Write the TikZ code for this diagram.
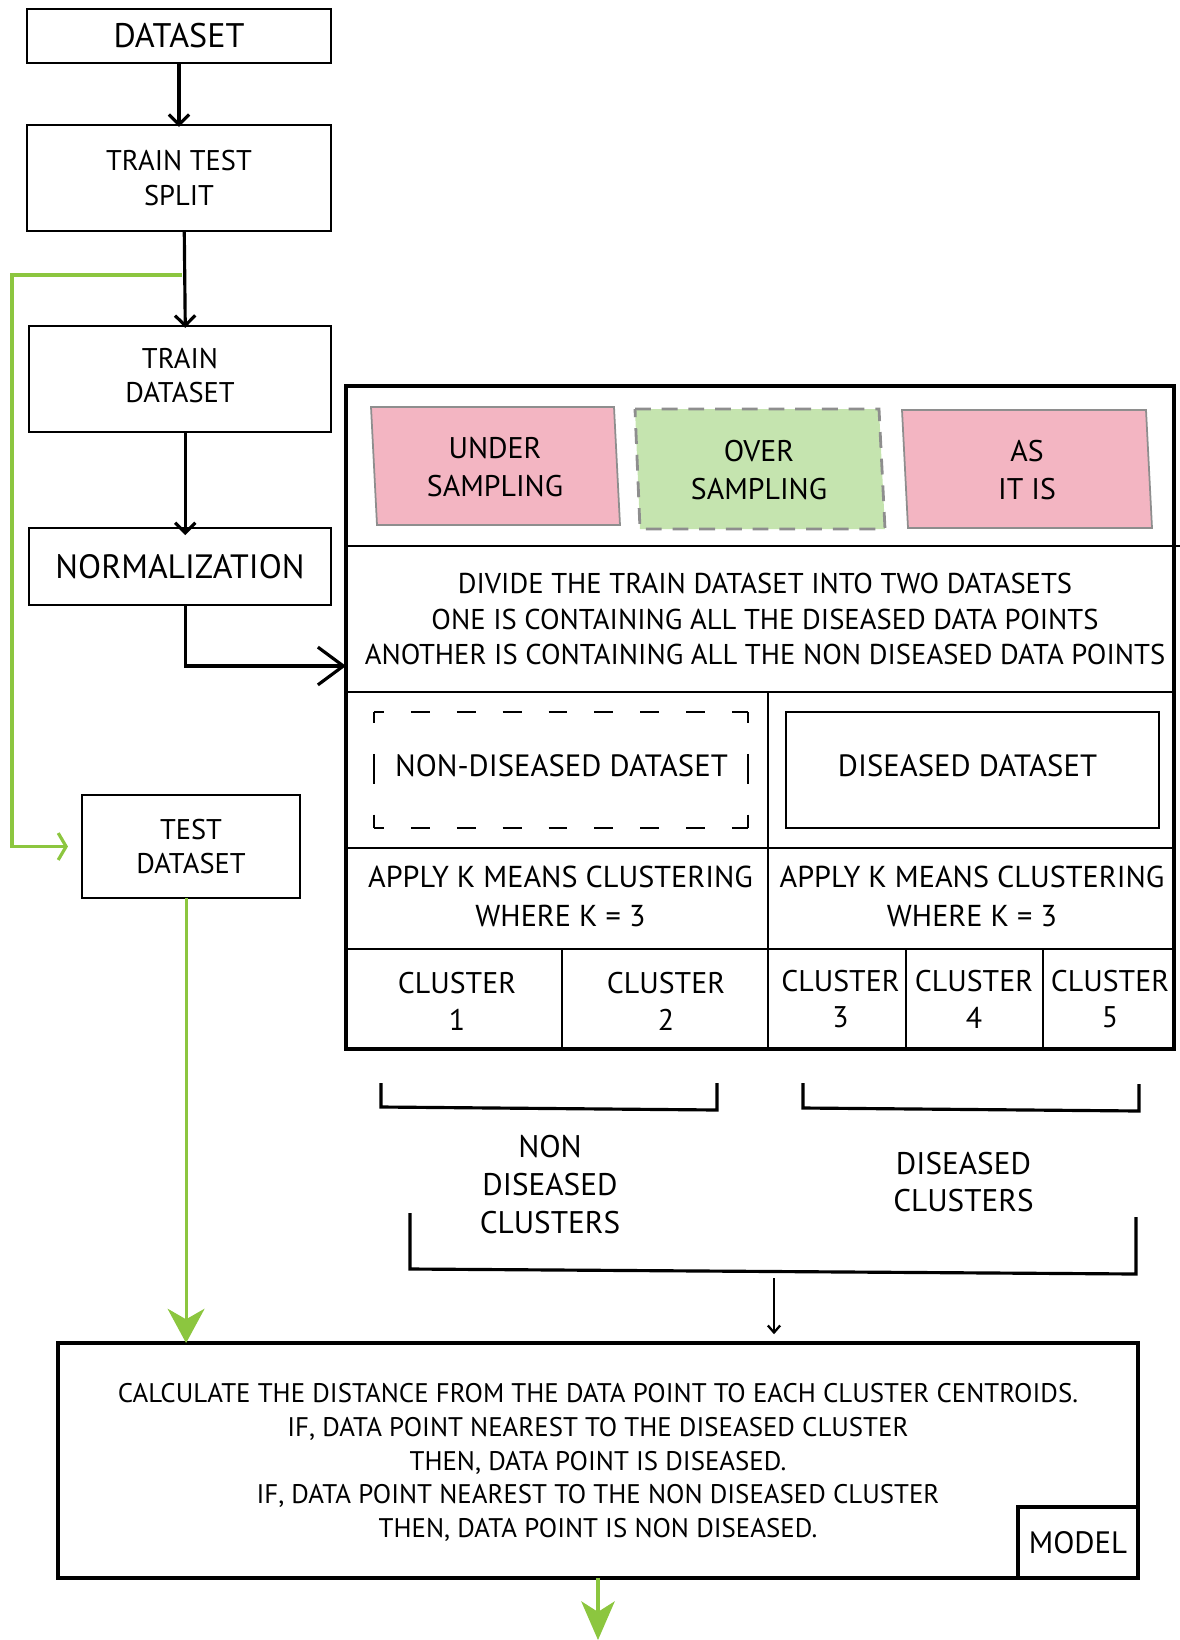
\documentclass[tikz,border=0pt]{standalone}
\usepackage{fontspec}
\setmainfont{PT Sans}
\usetikzlibrary{arrows.meta}
\definecolor{flowgreen}{HTML}{8CC63F}
\definecolor{pinkfill}{HTML}{F3B5C2}
\definecolor{greenfill}{HTML}{C5E4AF}
\definecolor{edgegray}{HTML}{8E8E8E}
\newcommand\fs[2]{\fontsize{#1}{#2}\selectfont}
\begin{document}
\begin{tikzpicture}[x=0.02cm, y=-0.02cm,
  box/.style={draw, line width=1.1pt, inner sep=0pt, outer sep=0pt, align=center},
  thickbox/.style={draw, line width=2.3pt, inner sep=0pt, outer sep=0pt, align=center},
  lbl/.style={inner sep=0pt, outer sep=0pt, align=center},
  inner/.style={line width=1.2pt},
  flow/.style={line width=1.8pt, -{Straight Barb[length=5.7pt, width=11.5pt]}},
  bigflow/.style={line width=1.8pt, -{Straight Barb[length=14.5pt, width=21.5pt]}},
  gflow/.style={draw=flowgreen, line width=1.8pt},
  bracket/.style={line width=1.8pt},
  sample/.style={draw=edgegray, line width=1pt},
  dashh/.style={line width=1.1pt, dash pattern=on 10.8pt off 15.3pt, dash phase=5.1pt},
  dashv/.style={line width=1.1pt, dash pattern=on 17pt off 17.6pt, dash phase=10.8pt}]

\useasboundingbox (0,0) rectangle (1180,1640);

% left column of steps
\node[box, minimum width=6.08cm, minimum height=1.08cm, font=\fs{19.4}{23}] (dataset) at (179,36) {DATASET};
\node[box, minimum width=6.08cm, minimum height=2.12cm, font=\fs{16.2}{19.8}] (split) at (179,178) {TRAIN TEST\\SPLIT};
\node[box, minimum width=6.04cm, minimum height=2.12cm] (train) at (180,379) {};
\node[lbl, font=\fs{16.2}{19.8}] (traintext) at (180,375.5) {TRAIN\\DATASET};
\node[box, minimum width=6.04cm, minimum height=1.54cm, font=\fs{19.2}{22}] (norm) at (180,566.5) {NORMALIZATION};
\node[box, minimum width=4.36cm, minimum height=2.06cm, font=\fs{16.2}{19.8}] (test) at (191,846.5) {TEST\\DATASET};

% clustering panel
\node[thickbox, minimum width=16.56cm, minimum height=13.26cm] (panel) at (760,717.5) {};
\draw[inner] (346,546) -- (1180,546);
\draw[inner] (346,692) -- (1174,692);
\draw[inner] (346,848) -- (1174,848);
\draw[inner] (346,949) -- (1174,949);
\draw[inner] (768,692) -- (768,1049);
\draw[inner] (562,949) -- (562,1049);
\draw[inner] (906,949) -- (906,1049);
\draw[inner] (1043,949) -- (1043,1049);

% sampling choices
\filldraw[sample, fill=pinkfill] (371,407) -- (614,407) -- (620,525) -- (377,525) -- cycle;
\filldraw[sample, fill=greenfill, line width=1.6pt, dash pattern=on 9pt off 6.2pt] (635,409) -- (879,409) -- (885,529) -- (640,529) -- cycle;
\filldraw[sample, fill=pinkfill] (902,410) -- (1146,410) -- (1152,528) -- (908,528) -- cycle;
\node[lbl, font=\fs{17}{22.1}] (under) at (495,467) {UNDER\\SAMPLING};
\node[lbl, font=\fs{17}{22.1}] (over) at (759,470) {OVER\\SAMPLING};
\node[lbl, font=\fs{17}{22.1}] (asis) at (1027,470) {AS\\IT IS};

\node[lbl, font=\fs{16.3}{20.4}] (divide) at (765,619) {DIVIDE THE TRAIN DATASET INTO TWO DATASETS\\ONE IS CONTAINING ALL THE DISEASED DATA POINTS\\ANOTHER IS CONTAINING ALL THE NON DISEASED DATA POINTS};

% the two datasets
\node[lbl, minimum width=7.48cm, minimum height=2.32cm] (nondis) at (561,770) {};
\node[lbl, font=\fs{17.5}{21}] (nondistext) at (561.5,766) {NON-DISEASED DATASET};
\draw[dashh] (nondis.north west) -- (nondis.north east);
\draw[dashh] (nondis.south west) -- (nondis.south east);
\draw[dashv] (nondis.north west) -- (nondis.south west);
\draw[dashv] (nondis.north east) -- (nondis.south east);
\node[box, minimum width=7.46cm, minimum height=2.32cm] (dis) at (972.5,770) {};
\node[lbl, font=\fs{17.5}{21}] (distext) at (967.5,766) {DISEASED DATASET};

\node[lbl, font=\fs{17.2}{22.1}] (kleft) at (560.5,896.5) {APPLY K MEANS CLUSTERING\\WHERE K = 3};
\node[lbl, font=\fs{17.2}{22.1}] (kright) at (972,896.5) {APPLY K MEANS CLUSTERING\\WHERE K = 3};

\node[lbl, font=\fs{17}{21}] (c1) at (457,1001.5) {CLUSTER\\1};
\node[lbl, font=\fs{17}{21}] (c2) at (666,1001.5) {CLUSTER\\2};
\node[lbl, font=\fs{17}{21}] (c3) at (840.5,999) {CLUSTER\\3};
\node[lbl, font=\fs{17}{21}] (c4) at (974,999) {CLUSTER\\4};
\node[lbl, font=\fs{17}{21}] (c5) at (1110,999) {CLUSTER\\5};

% cluster groups
\draw[bracket] (381,1083) -- (381,1107) -- (717,1110) -- (717,1083);
\draw[bracket] (803,1083) -- (803,1108) -- (1139,1111) -- (1139,1084);
\node[lbl, font=\fs{17.8}{21.5}] (nongroup) at (550,1184.5) {NON\\DISEASED\\CLUSTERS};
\node[lbl, font=\fs{17.8}{21.5}] (disgroup) at (963.5,1182) {DISEASED\\CLUSTERS};
\draw[bracket] (410,1213) -- (410,1269) -- (1136,1274) -- (1136,1217);
\coordinate (join) at (774,1278);

% model
\node[thickbox, minimum width=21.6cm, minimum height=4.7cm] (model) at (598,1460.5) {};
\node[lbl, font=\fs{15.3}{19.3}] (rule) at (598,1462.5) {CALCULATE THE DISTANCE FROM THE DATA POINT TO EACH CLUSTER CENTROIDS.\\IF, DATA POINT NEAREST TO THE DISEASED CLUSTER\\THEN, DATA POINT IS DISEASED.\\IF, DATA POINT NEAREST TO THE NON DISEASED CLUSTER\\THEN, DATA POINT IS NON DISEASED.};
\node[thickbox, minimum width=2.4cm, minimum height=1.42cm, font=\fs{17.6}{21}] (tag) at (1078,1542.5) {MODEL};

% connectors
\draw[flow] (dataset.south) -- ([yshift=-1pt]split.north);
\draw[flow] ([xshift=3pt]split.south) -- ([xshift=3pt, yshift=-1pt]train.north);
\draw[flow] ([xshift=3pt]train.south) -- ([xshift=3pt, yshift=-4pt]norm.north);
\coordinate (entry) at (346,666);
\draw[bigflow] ([xshift=3pt]norm.south) |- (entry);
\coordinate (branch) at (182,275);
\coordinate (gleft) at (12,275);
\draw[gflow, -{Straight Barb[length=4.5pt, width=15.3pt]}, shorten >=8pt] (branch) -- (gleft) |- (test.west);
\draw[gflow, -{Stealth[length=19.5pt, width=21pt, inset=6pt]}] ([xshift=-2.8pt]test.south) -- ([xshift=-2.8pt]test.south |- model.north);
\draw[line width=1.3pt, -{Straight Barb[length=4pt, width=7pt]}, shorten >=5pt] (join) -- (join |- model.north);
\coordinate (out) at (598,1640);
\draw[gflow, -{Stealth[length=22pt, width=19pt, inset=6pt]}] (model.south) -- (out);
\end{tikzpicture}
\end{document}
